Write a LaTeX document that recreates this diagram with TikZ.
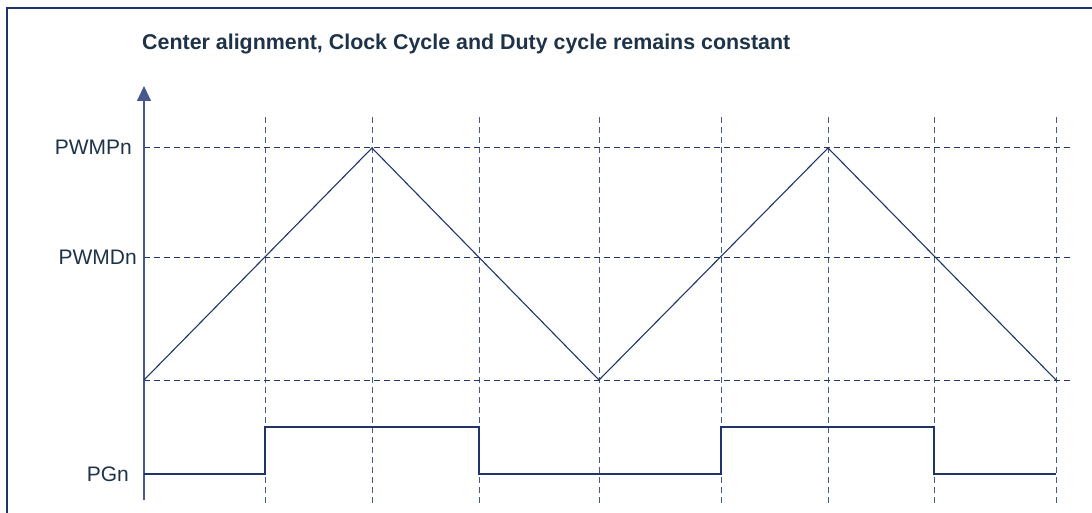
\documentclass[tikz,border=0pt]{standalone}
\usepackage{fontspec}
\setmainfont{Liberation Sans}
\usetikzlibrary{arrows.meta}
\definecolor{navy}{RGB}{31,52,104}
\definecolor{gridblue}{RGB}{70,88,140}
\definecolor{textdark}{RGB}{30,50,72}

\begin{document}
\begin{tikzpicture}[x=1pt,y=-1pt,
        wave/.style={navy,line width=1.1pt},
        guide/.style={gridblue,line width=1pt,dash pattern=on 6pt off 4pt},
        level/.style={font=\fontsize{21}{25}\selectfont,text=textdark,anchor=base east,inner sep=0pt}]
        \useasboundingbox (0,0) rectangle (1092,513);
        \draw[navy,line width=1.5pt] (7,513) -- (7,8) -- (1092,8);

        \node[font=\bfseries\fontsize{21.4}{25}\selectfont,text=textdark,anchor=base west,inner sep=0pt] (title) at (142,50) {Center alignment, Clock Cycle and Duty cycle remains constant};

        \foreach \x in {265,372,479,599,721,828,934,1056}
            \draw[guide] (\x,117) -- (\x,504);

        \coordinate (top) at (144,148);
        \coordinate (mid) at (144,257);
        \coordinate (low) at (144,380);
        \draw[guide,navy] (top) -- (1072,148);
        \draw[guide,navy] (mid) -- (1072,257);
        \draw[guide,navy] (low) -- (1072,380);

        \draw[gridblue,line width=1.2pt,-{Triangle[width=14pt,length=15pt]}] (144,500) coordinate (origin) -- (144,86) coordinate (ytip);

        \node[level] (pwmp) at (132,155) {PWMPn};
        \node[level] (pwmd) at (137,264) {PWMDn};
        \node[level] (pg) at (129,481) {PGn};

        \draw[wave] (low) -- (372,148) -- (599,380) -- (828,148) -- (1056,380);
        \draw[wave] (144,474) -- (265,474) -- (265,427) -- (479,427) -- (479,474) -- (721,474) -- (721,427) -- (934,427) -- (934,474) -- (1056,474);
    \end{tikzpicture}
\end{document}
